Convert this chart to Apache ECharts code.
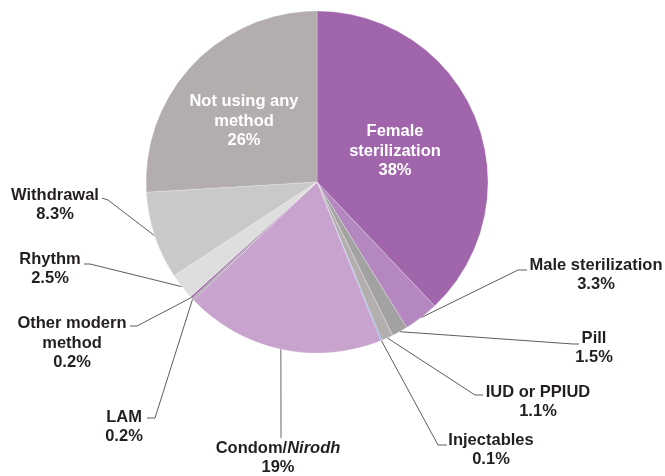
<!DOCTYPE html>
<html>
<head>
<meta charset="utf-8">
<script src="https://cdn.jsdelivr.net/npm/echarts@6/dist/echarts.min.js"></script>
<style>
  html, body { margin: 0; padding: 0; background: #fff; }
  #chart-box { width: 665px; height: 476px; }
</style>
</head>
<body>
<div id="chart-box"></div>
<script>
// data
var methods = ['Female sterilization', 'Male sterilization', 'Pill', 'IUD or PPIUD', 'Injectables',
  'Condom/Nirodh', 'LAM', 'Other modern method', 'Rhythm', 'Withdrawal', 'Not using any method'];
var shares = [38, 3.3, 1.5, 1.1, 0.1, 19, 0.2, 0.2, 2.5, 8.3, 26];
var shareText = ['38%', '3.3%', '1.5%', '1.1%', '0.1%', '19%', '0.2%', '0.2%', '2.5%', '8.3%', '26%'];
var labelText = ['Female\nsterilization', 'Male sterilization', 'Pill', 'IUD or PPIUD', 'Injectables',
  'Condom/{i|Nirodh}', 'LAM', 'Other modern\nmethod', 'Rhythm', 'Withdrawal', 'Not using any\nmethod'];
var colors = ['#A165AC', '#B487C0', '#A2A2A2', '#B4AEAE', '#5B9BD5',
  '#C8A3CE', '#A8A8A8', '#A066AB', '#DEDEDE', '#C9C9C9', '#B3ADAE'];

// label placement (center of text block) and leader line bends
var labelPos = [[395, 151], [596, 275], [594, 348], [538, 402], [491, 450],
  [278, 458], [124, 427], [72, 343], [50, 269], [55, 205], [244, 121]];
var bends = [null, [[518, 270], [527, 270]], [[573, 344], [579, 344]], [[475, 395], [483, 395]],
  [[438, 445], [447, 445]], [[281, 438]], [[155, 418], [147, 418]], [[137, 326], [130, 326]],
  [[90, 264], [84, 264]], [[108, 200], [102, 198]], null];
var inside = [true, false, false, false, false, false, false, false, false, false, true];

var myChart = echarts.init(document.getElementById('chart-box'));

var pieData = methods.map(function (m, i) {
  return {
    name: m,
    value: shares[i],
    itemStyle: { color: colors[i] },
    label: inside[i] ? { position: 'inside', color: '#fff' } : { position: 'outside' },
    labelLine: {
      show: !inside[i],
      lineStyle: { color: i === 5 ? '#9a9a9a' : '#333', width: i === 5 ? 1.5 : 0.8 }
    }
  };
});

var option = {
  animation: false,
  series: [{
    type: 'pie',
    center: [317, 182],
    radius: 171,
    startAngle: 90,
    avoidLabelOverlap: false,
    itemStyle: { borderColor: 'rgba(255,255,255,0.5)', borderWidth: 0.5 },
    label: {
      fontFamily: '"Liberation Sans", Arial, sans-serif',
      fontWeight: 'bold',
      fontSize: 16.5,
      lineHeight: 19.5,
      color: '#231F20',
      align: 'center',
      formatter: function (p) {
        return labelText[p.dataIndex] + '\n' + shareText[p.dataIndex];
      },
      rich: {
        i: { fontStyle: 'italic', fontWeight: 'bold', fontSize: 16.5, lineHeight: 19.5, fontFamily: '"Liberation Sans", Arial, sans-serif', color: '#231F20' }
      }
    },
    labelLayout: function (params) {
      var i = params.dataIndex;
      var out = { x: labelPos[i][0], y: labelPos[i][1], align: 'center', verticalAlign: 'middle' };
      if (bends[i] && params.labelLinePoints) {
        out.labelLinePoints = [params.labelLinePoints[0]].concat(bends[i]);
      }
      return out;
    },
    data: pieData
  }]
};

myChart.setOption(option);
</script>
</body>
</html>
